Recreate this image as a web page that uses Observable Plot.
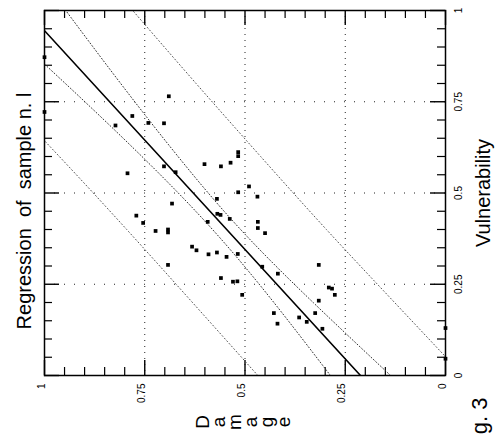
<!DOCTYPE html>
<html><head><meta charset="utf-8">
<script src="https://cdn.jsdelivr.net/npm/d3@7"></script>
<script src="https://cdn.jsdelivr.net/npm/@observablehq/plot@0.6"></script>
<style>
html,body{margin:0;padding:0;background:#fff;overflow:hidden;}
#chart{width:495px;height:439px;overflow:hidden;position:relative;}
#chart svg{overflow:hidden;}
</style>
</head><body><div id="chart"></div>
<script>
// Observed samples: Damage (horizontal, reversed) vs Vulnerability (vertical)
const damage = [1, 1, 0, 0,
  0.823, 0.781, 0.741, 0.702, 0.690, 0.793, 0.702, 0.673, 0.601, 0.560,
  0.536, 0.517, 0.517, 0.490, 0.517, 0.469, 0.682, 0.570, 0.771, 0.754,
  0.569, 0.561, 0.593, 0.538, 0.468, 0.468, 0.450, 0.723, 0.692, 0.692,
  0.632, 0.621, 0.591, 0.570, 0.546, 0.518, 0.692, 0.457, 0.560, 0.530,
  0.519, 0.507, 0.418, 0.428, 0.419, 0.365, 0.346, 0.325, 0.316, 0.316,
  0.307, 0.291, 0.283, 0.276];
const vulnerability = [0.872, 0.722, 0.130, 0.046,
  0.685, 0.711, 0.692, 0.691, 0.765, 0.554, 0.573, 0.557, 0.579, 0.573,
  0.583, 0.612, 0.601, 0.518, 0.502, 0.490, 0.471, 0.484, 0.438, 0.418,
  0.443, 0.440, 0.421, 0.429, 0.421, 0.404, 0.390, 0.396, 0.400, 0.392,
  0.353, 0.343, 0.332, 0.337, 0.325, 0.333, 0.303, 0.298, 0.267, 0.257,
  0.258, 0.221, 0.279, 0.171, 0.142, 0.159, 0.147, 0.171, 0.205, 0.303,
  0.128, 0.241, 0.238, 0.221];

// Regression line (read at its two ends)
const regV = [0, 1];
const regD = [0.212, 1.046];

// Confidence (inner) and prediction (outer) bands, Damage read at these Vulnerability levels
const bandV = [0, 0.2, 0.4, 0.6, 0.8, 1.0];
const innerHigh = [0.287, 0.428, 0.581, 0.757, 0.948, 1.145];
const innerLow  = [0.137, 0.330, 0.511, 0.667, 0.810, 0.947];
const outerHigh = [0.468, 0.631, 0.795, 0.963, 1.136, 1.312];
const outerLow  = [-0.044, 0.127, 0.297, 0.461, 0.622, 0.780];

// Axis ticks and labels
const damageTicks = [1, 0.75, 0.5, 0.25, 0];
const damageTickLabels = ["1", "0.75", "0.5", "0.25", "0"];
const vulnTicks = [0, 0.25, 0.5, 0.75, 1];
const vulnTickLabels = ["0", "0.25", "0.5", "0.75", "1"];
const gridValues = [0.25, 0.5, 0.75];
const minorStep = 0.05;

const title = "Regression  of  sample n. l";
const xLabel = "Damage";
const yLabel = "Vulnerability";
const figLabel = "g. 3";

const points = damage.map((d, i) => ({D: d, V: vulnerability[i]}));
const reg = regV.map((v, i) => ({D: regD[i], V: v}));
const band = arr => bandV.map((v, i) => ({D: arr[i], V: v}));
const minor = d3.range(0, 1 + 1e-9, minorStep).map(v => +v.toFixed(2));
const isMajor = v => Math.abs(v * 4 - Math.round(v * 4)) < 1e-6;
const minorOnly = minor.filter(v => !isMajor(v));
const majorOnly = minor.filter(v => isMajor(v));

const PH = 365, PW = 401, minorLen = 8, majorLen = 15;
const font = "'Liberation Sans', Arial, Helvetica, sans-serif";

const letters = xLabel.split("");

const plot = Plot.plot({
  width: 495, height: 439,
  marginLeft: 44, marginRight: 50, marginTop: 10, marginBottom: 64,
  x: {domain: [1, 0], axis: null},
  y: {domain: [0, 1], axis: null},
  style: {fontFamily: font, background: "white", color: "black"},
  marks: [
    // dotted grid
    Plot.ruleX(gridValues, {x: d => d, stroke: "#222", strokeWidth: 1, strokeDasharray: "1,5"}),
    Plot.ruleY(gridValues, {y: d => d, stroke: "#222", strokeWidth: 1, strokeDasharray: "1,9"}),
    // inward ticks, bottom & top
    Plot.ruleX(minorOnly, {x: d => d, insetTop: PH - minorLen, strokeWidth: 1.2}),
    Plot.ruleX(majorOnly, {x: d => d, insetTop: PH - majorLen, strokeWidth: 1.4}),
    Plot.ruleX(minorOnly, {x: d => d, insetBottom: PH - minorLen, strokeWidth: 1.2}),
    Plot.ruleX(majorOnly, {x: d => d, insetBottom: PH - majorLen, strokeWidth: 1.4}),
    // inward ticks, left & right
    Plot.ruleY(minorOnly, {y: d => d, insetRight: PW - minorLen, strokeWidth: 1.2}),
    Plot.ruleY(majorOnly, {y: d => d, insetRight: PW - majorLen, strokeWidth: 1.4}),
    Plot.ruleY(minorOnly, {y: d => d, insetLeft: PW - minorLen, strokeWidth: 1.2}),
    Plot.ruleY(majorOnly, {y: d => d, insetLeft: PW - majorLen, strokeWidth: 1.4}),
    // bands
    Plot.line(band(outerHigh), {x: "D", y: "V", curve: "natural", clip: true, stroke: "#555", strokeWidth: 1, strokeDasharray: "1,2.5"}),
    Plot.line(band(outerLow), {x: "D", y: "V", curve: "natural", clip: true, stroke: "#555", strokeWidth: 1, strokeDasharray: "1,2.5"}),
    Plot.line(band(innerHigh), {x: "D", y: "V", curve: "natural", clip: true, stroke: "#333", strokeWidth: 1, strokeDasharray: "1,2.2"}),
    Plot.line(band(innerLow), {x: "D", y: "V", curve: "natural", clip: true, stroke: "#333", strokeWidth: 1, strokeDasharray: "1,2.2"}),
    // regression line
    Plot.line(reg, {x: "D", y: "V", clip: true, stroke: "black", strokeWidth: 1.6}),
    // samples
    Plot.dot(points, {x: "D", y: "V", symbol: "square", r: 2.1, fill: "black", stroke: null}),
    Plot.frame({stroke: "black", strokeWidth: 1.5}),
    // tick labels
    Plot.text(damageTicks, {x: d => d, frameAnchor: "bottom", dy: 8, rotate: -90, textAnchor: "end",
      text: (d, i) => damageTickLabels[i], fontSize: 10}),
    Plot.text(vulnTicks, {y: d => d, frameAnchor: "right", dx: 13, rotate: -90, textAnchor: "middle",
      text: (d, i) => vulnTickLabels[i], fontSize: 10}),
    // axis titles
    Plot.text([yLabel], {frameAnchor: "right", dx: 38, rotate: -90, textAnchor: "middle", fontSize: 20, text: d => d}),
    Plot.text([title], {frameAnchor: "left", dx: -20, dy: 18, rotate: -90, textAnchor: "middle", fontSize: 20, text: d => d}),
    ...letters.map((c, i) => Plot.text([c], {frameAnchor: "bottom", dx: -36.5 + i * 16.2, dy: 46.5,
      rotate: -90, textAnchor: "middle", fontSize: 19, text: d => d})),
    Plot.text([figLabel], {frameAnchor: "bottom-right", dx: 41, dy: 22, rotate: -90, textAnchor: "end",
      fontSize: 22, text: d => d})
  ]
});
document.getElementById("chart").appendChild(plot);
</script>
</body></html>
